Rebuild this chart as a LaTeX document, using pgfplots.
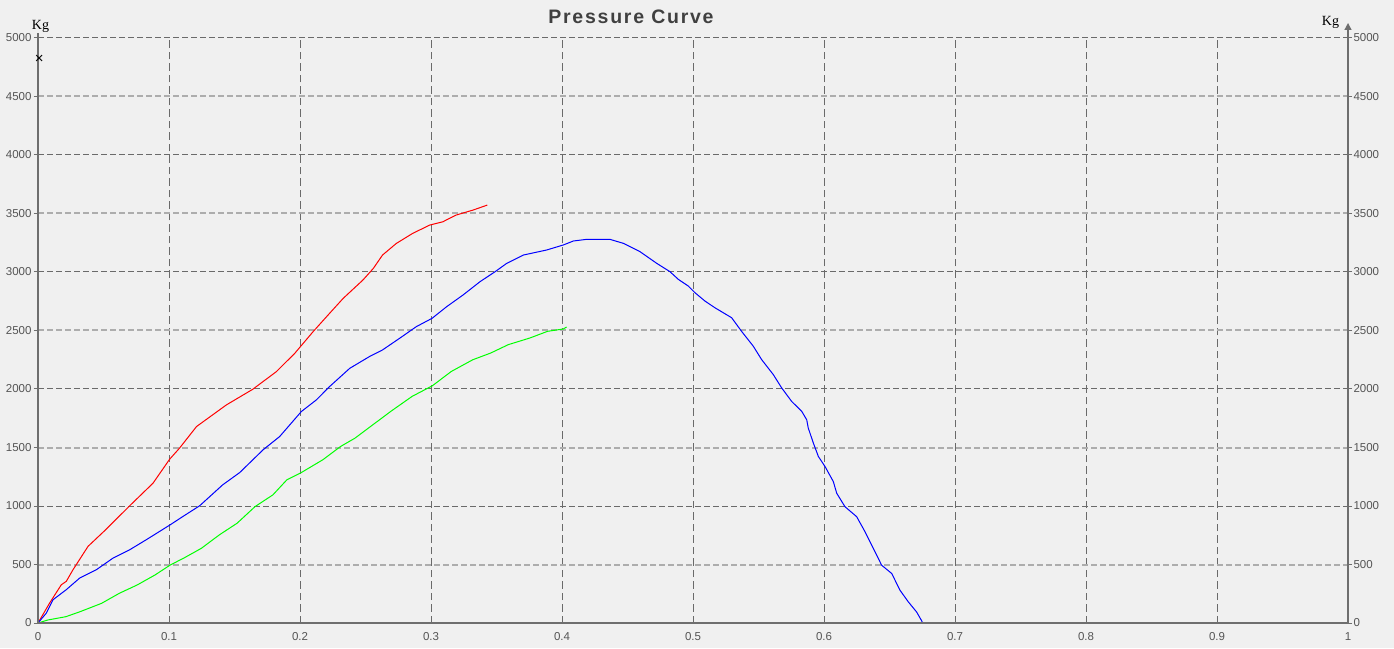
\documentclass[border=0pt]{standalone}
\usepackage{fontspec}
\setmainfont{Liberation Sans}
\newfontfamily\kgfont{Liberation Serif}
\newfontfamily\titlefont[LetterSpace=9]{Liberation Sans}
\usepackage{pgfplots}
\pgfplotsset{compat=1.18}
\usetikzlibrary{arrows.meta}
\definecolor{bg}{HTML}{F0F0F0}
\definecolor{gdark}{HTML}{6A6A6A}
\definecolor{glight}{HTML}{ADADAD}
\definecolor{axc}{HTML}{6E6E6E}
\definecolor{tickc}{HTML}{555555}
\definecolor{titlec}{HTML}{404040}
\begin{document}
\begin{tikzpicture}[x=1pt,y=1pt]
\fill[bg] (0,0) rectangle (1394,648);
\useasboundingbox (0,0) rectangle (1394,648);
\begin{axis}[
  at={(38pt,25pt)}, anchor=south west, scale only axis,
  width=1310pt, height=585pt,
  xmin=0, xmax=1, ymin=0, ymax=5000,
  axis line style={draw=none},
  xtick={0,0.1,0.2,0.3,0.4,0.5,0.6,0.7,0.8,0.9,1},
  xticklabels={0,0.1,0.2,0.3,0.4,0.5,0.6,0.7,0.8,0.9,1},
  ytick={0,1000,2000,3000,4000,5000},
  yticklabels={0,1000,2000,3000,4000,5000},
  minor ytick={500,1500,2500,3500,4500},
  extra y ticks={500,1500,2500,3500,4500},
  extra y tick labels={500,1500,2500,3500,4500},
  extra y tick style={ymajorgrids=false},
  ytick pos=left, xtick pos=bottom,
  tick align=outside, major tick length=4pt, minor tick length=4pt,
  xtick style={draw=none},
  ytick style={draw=axc, line width=1pt},
  minor tick style={draw=axc, line width=1pt},
  ticklabel style={font=\fontsize{11.5}{11.5}\selectfont, text=tickc},
  yticklabel style={xshift=1pt},
  xticklabel style={yshift=-2pt},
  xmajorgrids=true, ymajorgrids=true, yminorgrids=true,
  x grid style={color=gdark, line width=1pt, dash pattern=on 7.5pt off 4pt},
  major grid style={color=gdark, line width=1pt, dash pattern=on 5.5pt off 3.5pt},
  minor grid style={color=glight, line width=2pt, dash pattern=on 5.5pt off 3.5pt},
  every axis plot/.append style={line width=1pt},
]
\addplot[color=red] coordinates {
(0,0) (0.0089,171) (0.0178,327) (0.0216,356) (0.0267,455) (0.0382,655)
(0.0522,803) (0.070,1002) (0.0878,1195) (0.1005,1400) (0.108,1494)
(0.121,1679) (0.1438,1864) (0.164,1998) (0.182,2149) (0.196,2305)
(0.210,2490) (0.2226,2647) (0.233,2775) (0.248,2931) (0.256,3031)
(0.263,3145) (0.2735,3244) (0.286,3330) (0.299,3401) (0.309,3429)
(0.319,3486) (0.332,3529) (0.343,3572)
};
\addplot[color=blue] coordinates {
(0,0) (0.0064,85) (0.0115,199) (0.0216,285) (0.0318,384) (0.0445,455)
(0.0573,555) (0.070,626) (0.0827,712) (0.101,840) (0.1107,911)
(0.1234,1002) (0.141,1181) (0.154,1286) (0.1718,1480) (0.1845,1594)
(0.201,1807) (0.2125,1907) (0.2226,2021) (0.238,2177) (0.253,2277)
(0.263,2334) (0.276,2433) (0.2888,2533) (0.3008,2604) (0.312,2704)
(0.3244,2803) (0.3374,2917) (0.349,3003) (0.3578,3074) (0.3705,3145)
(0.3883,3188) (0.401,3231) (0.4087,3265) (0.4188,3279) (0.4366,3279)
(0.4468,3245) (0.4595,3174) (0.4723,3074) (0.4824,3003) (0.4888,2937)
(0.4964,2880) (0.5015,2823) (0.5092,2751) (0.5168,2694) (0.5295,2609)
(0.537,2494) (0.546,2366) (0.5524,2251) (0.5613,2123) (0.5677,2009)
(0.5753,1894) (0.5830,1809) (0.5868,1737) (0.588,1666) (0.5919,1537)
(0.5957,1423) (0.6008,1337) (0.6071,1209) (0.6097,1109) (0.616,994)
(0.6249,909) (0.6313,780) (0.6364,666) (0.644,494) (0.6517,423)
(0.658,280) (0.6644,180) (0.6707,94) (0.675,10)
};
\addplot[color=green] coordinates {
(0,0) (0.0076,26) (0.0213,54) (0.0322,97) (0.0485,168) (0.0621,254)
(0.0757,325) (0.0894,411) (0.101,496) (0.111,553) (0.1248,639)
(0.1384,753) (0.152,853) (0.1657,995) (0.1793,1095) (0.190,1224)
(0.201,1286) (0.2174,1395) (0.231,1509) (0.242,1580) (0.2556,1694)
(0.2692,1808) (0.2856,1937) (0.3011,2028) (0.3155,2150) (0.3319,2250)
(0.3455,2307) (0.359,2379) (0.3755,2436) (0.389,2493) (0.401,2513)
(0.4035,2530)
};
\end{axis}
\begin{axis}[
  at={(38pt,25pt)}, anchor=south west, scale only axis,
  width=1310pt, height=585pt,
  xmin=0, xmax=1, ymin=0, ymax=5000,
  axis line style={draw=none},
  hide x axis,
  ytick={0,500,1000,1500,2000,2500,3000,3500,4000,4500,5000},
  yticklabels={0,500,1000,1500,2000,2500,3000,3500,4000,4500,5000},
  ytick pos=right, yticklabel pos=right,
  tick align=outside, major tick length=4pt,
  ytick style={draw=axc, line width=1pt},
  ticklabel style={font=\fontsize{11.5}{11.5}\selectfont, text=tickc},
  yticklabel style={xshift=-2pt},
]
\addplot[draw=none] coordinates {(0,0)};
\end{axis}
\draw[axc, line width=1.3pt] (38,25) -- (38,615);
\draw[axc, line width=1.3pt] (38,25) -- (1348,25);
\draw[axc, line width=1.3pt, -{Triangle[width=7pt,length=7pt]}] (1348,25) -- (1348,625);
\node[font=\titlefont\bfseries\fontsize{19.5}{20}\selectfont, text=titlec] at (631,631) {Pressure Curve};
\node[font=\kgfont\fontsize{14}{14}\selectfont] at (40.5,622) {Kg};
\node[font=\kgfont\fontsize{14}{14}\selectfont] at (1330.5,626) {Kg};
\node[font=\fontsize{15}{15}\selectfont, inner sep=0pt] at (39.3,588.7) {×};
\end{tikzpicture}
\end{document}
